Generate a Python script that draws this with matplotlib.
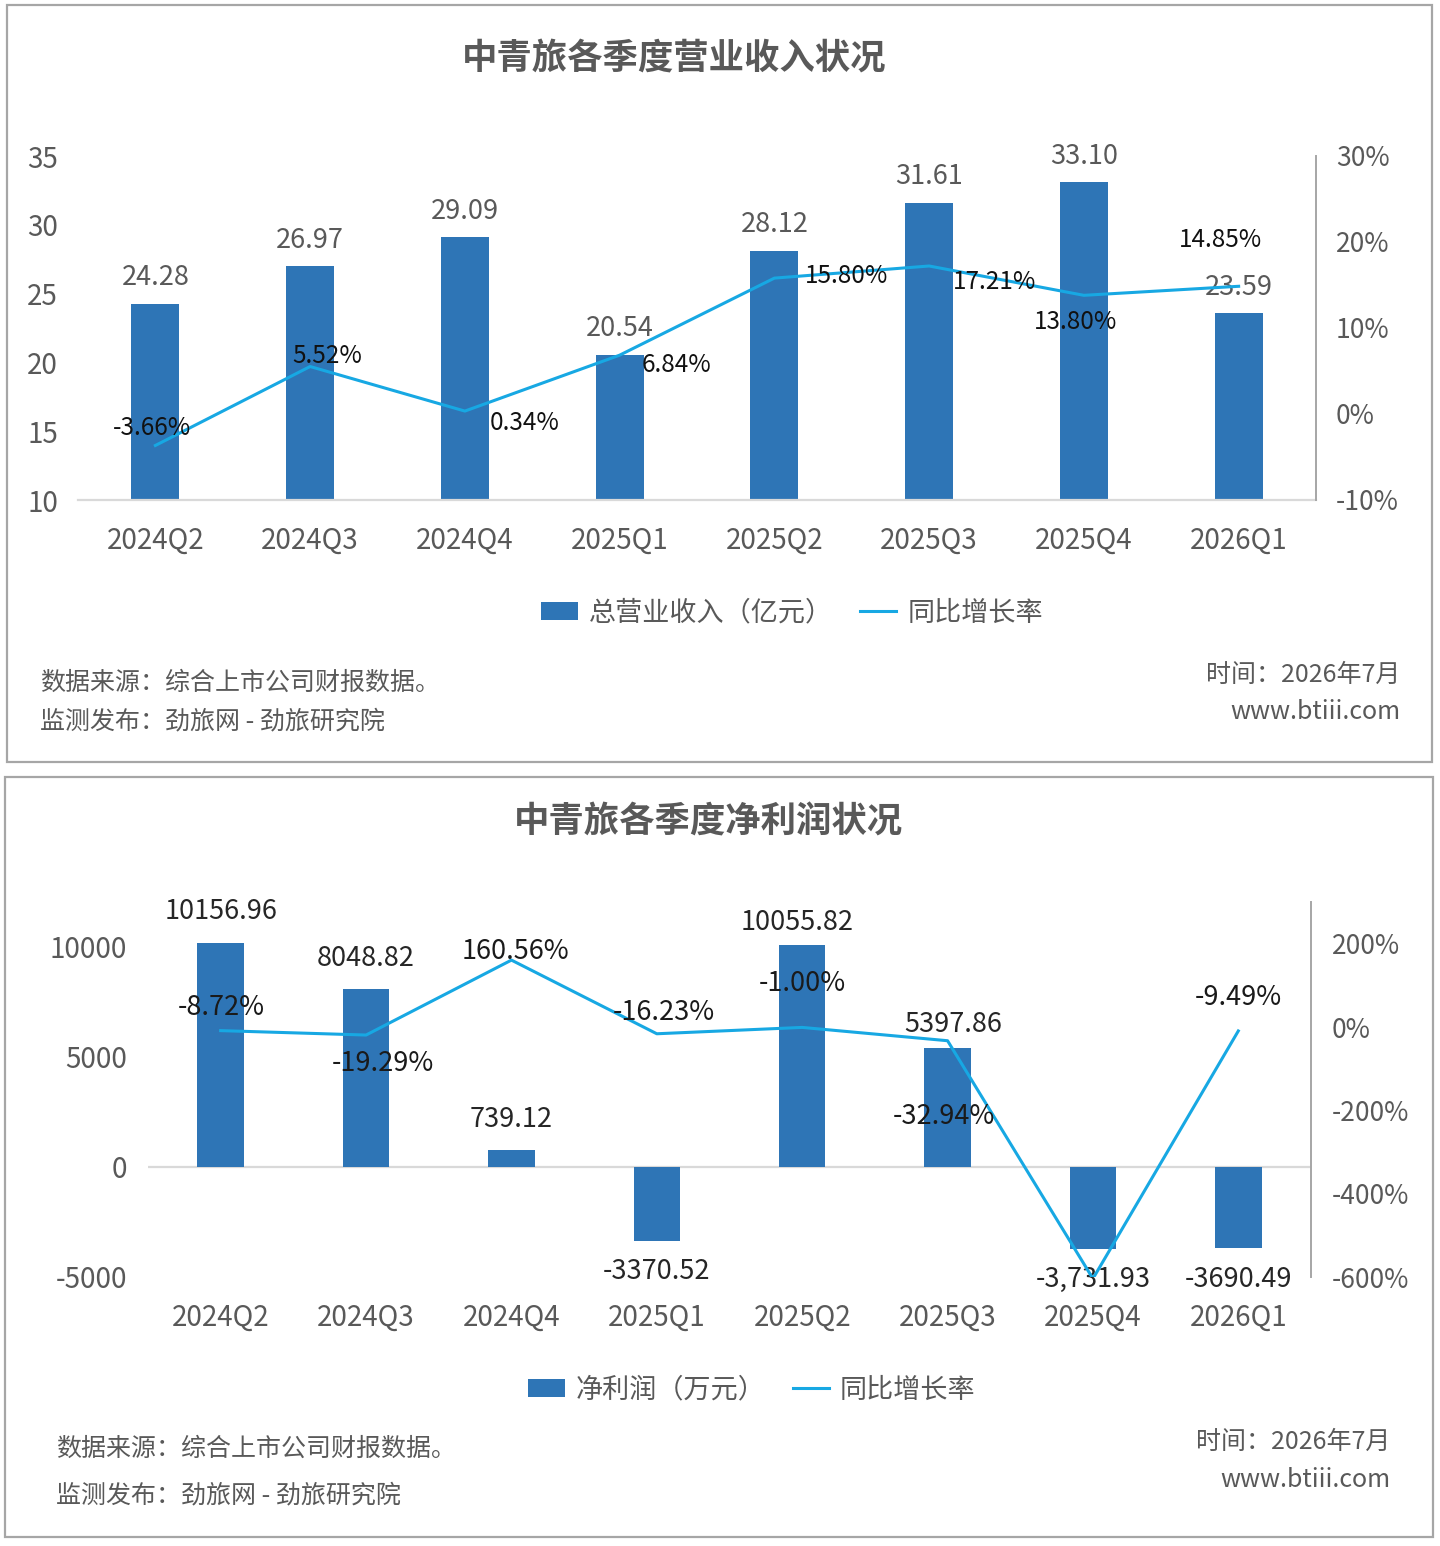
import numpy as np
import matplotlib
matplotlib.use("Agg")
import matplotlib.pyplot as plt
from matplotlib.patches import Rectangle, Patch
from matplotlib.lines import Line2D

plt.rcParams['font.family'] = ['Noto Sans CJK SC', 'DejaVu Sans']
plt.rcParams['axes.unicode_minus'] = False

# Donnees
quarters = ['2024Q2', '2024Q3', '2024Q4', '2025Q1', '2025Q2', '2025Q3', '2025Q4', '2026Q1']

revenue = [24.28, 26.97, 29.09, 20.54, 28.12, 31.61, 33.10, 23.59]
revenue_growth = [-3.66, 5.52, 0.34, 6.84, 15.80, 17.21, 13.80, 14.85]

profit = [10156.96, 8048.82, 739.12, -3370.52, 10055.82, 5397.86, -3731.93, -3690.49]
profit_labels = ['10156.96', '8048.82', '739.12', '-3370.52', '10055.82', '5397.86', '-3,731.93', '-3690.49']
profit_growth = [-8.72, -19.29, 160.56, -16.23, -1.00, -32.94, -604.0, -9.49]
profit_growth_shown = [True, True, True, True, True, True, False, True]

BAR = '#2e75b6'
LINE = '#17a8e3'
GRAY = '#595959'
PX = 0.72  # px -> pt

W, H = 1440, 1546
fig = plt.figure(figsize=(W/100, H/100), dpi=100)

def fx(x):
    return x / W

def fy(y):
    return 1 - y / H

# cadres
for (x0, y0, x1, y1) in [(7, 5, 1432, 762), (5, 777, 1433, 1537)]:
    fig.patches.append(Rectangle((fx(x0), fy(y1)), fx(x1) - fx(x0), fy(y0) - fy(y1),
                                 transform=fig.transFigure, fill=False,
                                 edgecolor='#a6a6a6', linewidth=1.6))

x = np.arange(len(quarters))

# ---------------- Graphique 1 : revenus ----------------
ax = fig.add_axes([fx(78), fy(500), fx(1316) - fx(78), fy(156) - fy(500)])
ax.bar(x, revenue, width=0.31, color=BAR, zorder=2)
ax.set_xlim(-0.5, len(quarters) - 0.5)
ax.set_ylim(10, 35)
ax.set_yticks([10, 15, 20, 25, 30, 35])
ax.set_xticks(x)
ax.set_xticklabels(quarters)
for s in ['top', 'left', 'right']:
    ax.spines[s].set_visible(False)
ax.spines['bottom'].set_color('#d9d9d9')
ax.spines['bottom'].set_linewidth(1.6)
ax.tick_params(axis='both', length=0, labelsize=20, colors=GRAY)
ax.tick_params(axis='y', pad=20*PX)
ax.tick_params(axis='x', pad=26*PX)

ax2 = ax.twinx()
ax2.plot(x, revenue_growth, color=LINE, linewidth=2.2, zorder=3)
ax2.set_ylim(-10, 30)
ax2.set_yticks([-10, 0, 10, 20, 30])
ax2.set_yticklabels(['-10%', '0%', '10%', '20%', '30%'])
for s in ['top', 'left', 'bottom']:
    ax2.spines[s].set_visible(False)
ax2.spines['right'].set_color('#a6a6a6')
ax2.spines['right'].set_linewidth(1.4)
ax2.tick_params(axis='y', length=0, labelsize=19, colors=GRAY, pad=20*PX)

for i, v in enumerate(revenue):
    ax.annotate(f'{v:.2f}', (x[i], v), xytext=(0, 26*PX), textcoords='offset points',
                ha='center', va='center', fontsize=19.5, color=GRAY, zorder=5)

rev_off = [(-3, 17), (17, 11), (60, -12), (57, -10), (72, 2), (65, -16), (-8, -27), (-18, 46)]
for i, g in enumerate(revenue_growth):
    dx, dy = rev_off[i]
    ax2.annotate(f'{g:.2f}%', (x[i], g), xytext=(dx*PX, dy*PX), textcoords='offset points',
                 ha='center', va='center', fontsize=17.5, color='#111111', zorder=5)

fig.text(fx(674), fy(58), '中青旅各季度营业收入状况', ha='center', va='center',
         fontsize=25.5, fontweight='bold', color=GRAY)

h1 = [Patch(facecolor=BAR), Line2D([0], [0], color=LINE, linewidth=2.2)]
fig.legend(h1, ['总营业收入（亿元）', '同比增长率'], loc='center',
           bbox_to_anchor=(fx(792), fy(613)), ncol=2, frameon=False, fontsize=19.5,
           labelcolor=GRAY, handlelength=1.35, handleheight=0.6, handletextpad=0.4,
           columnspacing=1.0)

fig.text(fx(40), fy(683), '数据来源：综合上市公司财报数据。', ha='left', va='center', fontsize=18, color=GRAY)
fig.text(fx(40), fy(721), '监测发布：劲旅网 - 劲旅研究院', ha='left', va='center', fontsize=18, color=GRAY)
fig.text(fx(1400), fy(675), '时间：2026年7月', ha='right', va='center', fontsize=18, color=GRAY)
fig.text(fx(1400), fy(712), 'www.btiii.com', ha='right', va='center', fontsize=18, color=GRAY)

# ---------------- Graphique 2 : benefice net ----------------
bx = fig.add_axes([fx(148), fy(1277), fx(1311) - fx(148), fy(902) - fy(1277)])
bx.bar(x, profit, width=0.32, color=BAR, zorder=2)
bx.axhline(0, color='#d9d9d9', linewidth=1.6, zorder=1)
bx.set_xlim(-0.5, len(quarters) - 0.5)
bx.set_ylim(-5000, 12000)
bx.set_yticks([-5000, 0, 5000, 10000])
bx.set_xticks(x)
bx.set_xticklabels(quarters)
for s in ['top', 'left', 'right', 'bottom']:
    bx.spines[s].set_visible(False)
bx.tick_params(axis='both', length=0, labelsize=20, colors=GRAY)
bx.tick_params(axis='y', pad=21*PX)
bx.tick_params(axis='x', pad=26*PX)

bx2 = bx.twinx()
bx2.plot(x, profit_growth, color=LINE, linewidth=2.2, zorder=3)
bx2.set_ylim(-600, 300)
bx2.set_yticks([-600, -400, -200, 0, 200])
bx2.set_yticklabels(['-600%', '-400%', '-200%', '0%', '200%'])
for s in ['top', 'left', 'bottom']:
    bx2.spines[s].set_visible(False)
bx2.spines['right'].set_color('#a6a6a6')
bx2.spines['right'].set_linewidth(1.4)
bx2.tick_params(axis='y', length=0, labelsize=19, colors=GRAY, pad=21*PX)

prof_off = [(0, 31), (0, 31), (0, 31), (0, -30), (-5, 22), (6, 23), (0, -30), (0, -31)]
for i, v in enumerate(profit):
    dx, dy = prof_off[i]
    bx.annotate(profit_labels[i], (x[i], v), xytext=(dx*PX, dy*PX), textcoords='offset points',
                ha='center', va='center', fontsize=19.5, color='#262626', zorder=5)

pg_off = [(1, 23), (17, -28), (4, 9), (7, 21), (0, 44), (-4, -76), (0, 0), (0, 33)]
for i, g in enumerate(profit_growth):
    if not profit_growth_shown[i]:
        continue
    dx, dy = pg_off[i]
    bx2.annotate(f'{g:.2f}%', (x[i], g), xytext=(dx*PX, dy*PX), textcoords='offset points',
                 ha='center', va='center', fontsize=19.5, color='#1a1a1a', zorder=5)

fig.text(fx(708), fy(822), '中青旅各季度净利润状况', ha='center', va='center',
         fontsize=25.5, fontweight='bold', color=GRAY)

h2 = [Patch(facecolor=BAR), Line2D([0], [0], color=LINE, linewidth=2.2)]
fig.legend(h2, ['净利润（万元）', '同比增长率'], loc='center',
           bbox_to_anchor=(fx(752), fy(1390)), ncol=2, frameon=False, fontsize=19.5,
           labelcolor=GRAY, handlelength=1.35, handleheight=0.6, handletextpad=0.4,
           columnspacing=1.0)

fig.text(fx(56), fy(1449), '数据来源：综合上市公司财报数据。', ha='left', va='center', fontsize=18, color=GRAY)
fig.text(fx(56), fy(1495), '监测发布：劲旅网 - 劲旅研究院', ha='left', va='center', fontsize=18, color=GRAY)
fig.text(fx(1390), fy(1442), '时间：2026年7月', ha='right', va='center', fontsize=18, color=GRAY)
fig.text(fx(1390), fy(1480), 'www.btiii.com', ha='right', va='center', fontsize=18, color=GRAY)

fig.savefig('out.png', dpi=100, facecolor='white')
